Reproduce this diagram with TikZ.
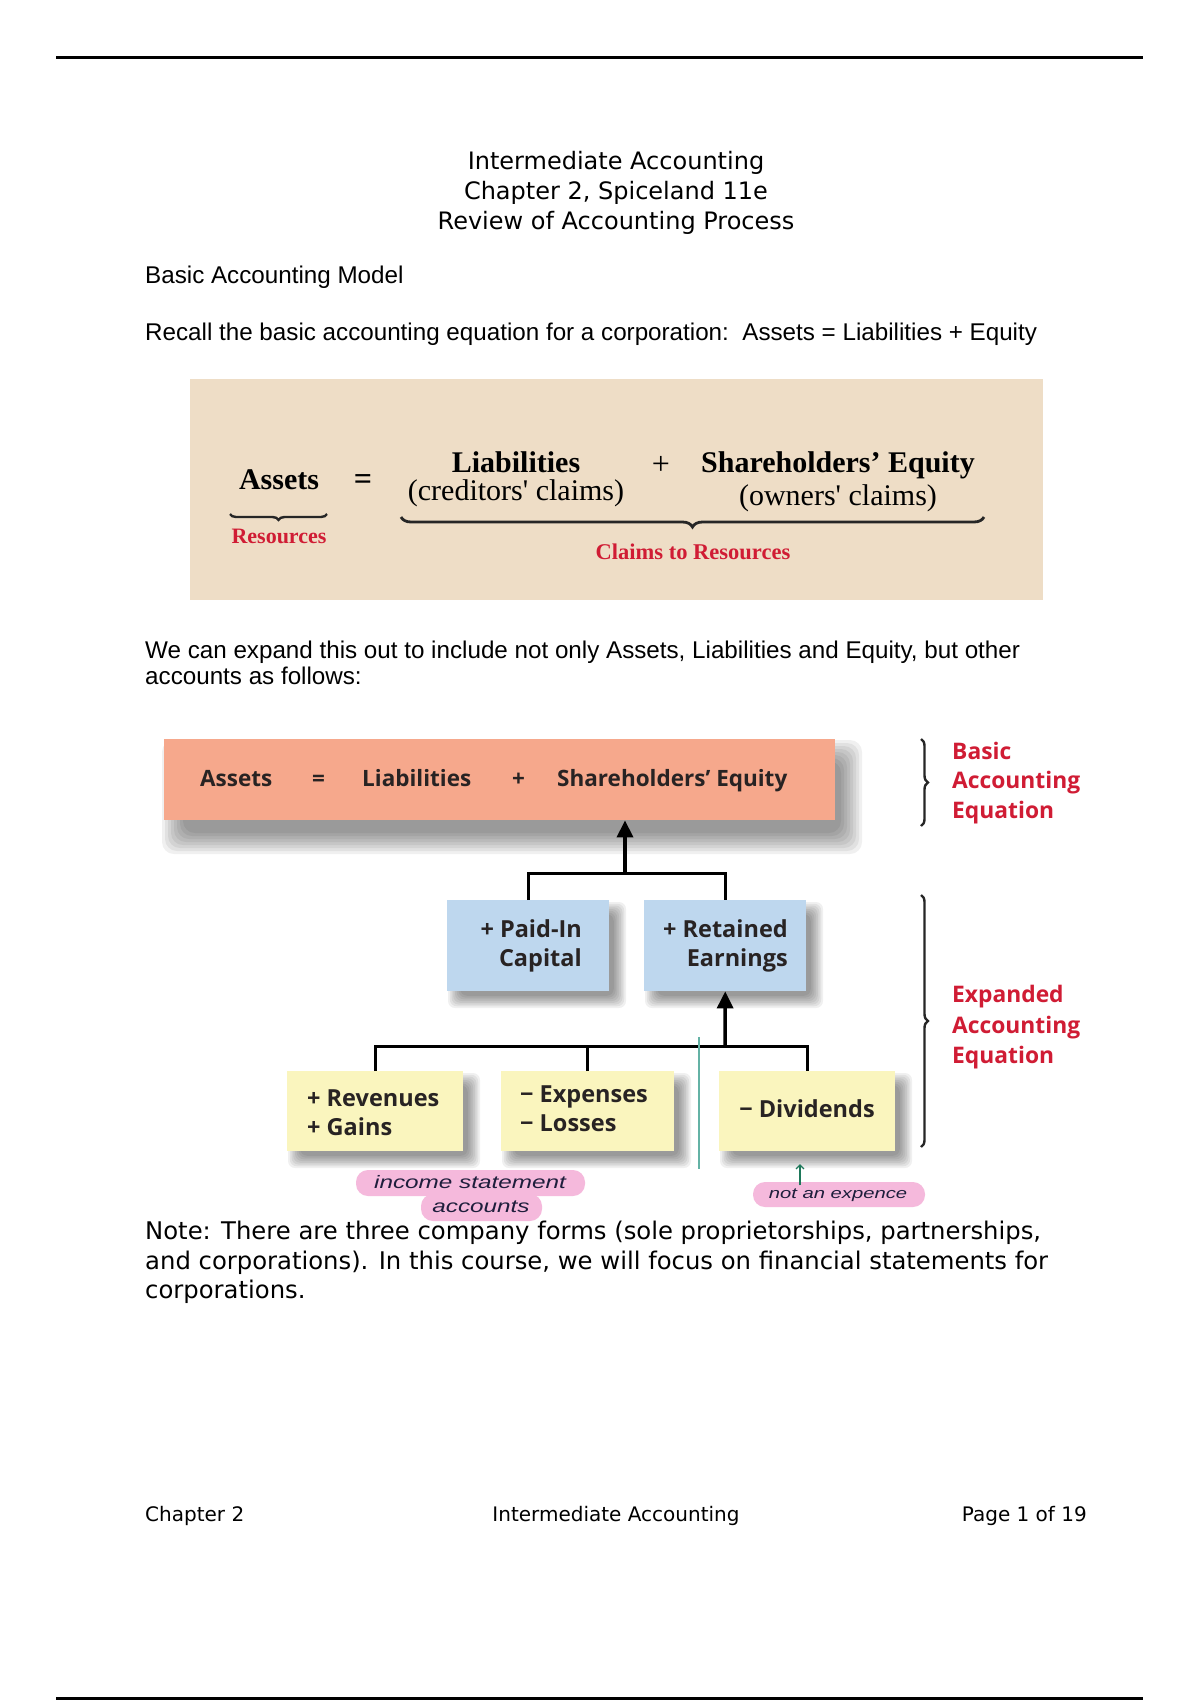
\documentclass[tikz,border=0pt]{standalone}
\usepackage{fontspec}
\setmainfont{DejaVu Sans}
\newfontfamily\arialf{Liberation Sans}
\newfontfamily\serf{Liberation Serif}
\newfontfamily\dgf{Open Sans}
\newfontfamily\handf{Liberation Sans}[FakeStretch=1.35]
\usetikzlibrary{arrows.meta,decorations.pathreplacing}
\definecolor{beige}{RGB}{238,221,198}
\definecolor{salmon}{RGB}{246,168,140}
\definecolor{lblue}{RGB}{190,215,238}
\definecolor{lyel}{RGB}{250,245,190}
\definecolor{redt}{RGB}{208,28,52}
\definecolor{dtext}{RGB}{40,35,35}
\definecolor{tealc}{RGB}{100,178,165}
\definecolor{pinkh}{RGB}{245,185,220}
\definecolor{inkc}{RGB}{30,30,60}
\definecolor{inkg}{RGB}{30,120,90}
\newcommand\sshadow[5]{\foreach \k in {0,...,7}{\fill[black,opacity=0.06,rounded corners=#5] ({#1-#5+#5*\k/4},{#2-#5+#5*\k/4}) rectangle ({#3+#5-#5*\k/4},{#4+#5-#5*\k/4});}}
\tikzset{
  txt/.style={inner sep=0pt, anchor=base west},
  ctxt/.style={inner sep=0pt, anchor=base},
  rtxt/.style={inner sep=0pt, anchor=base east},
  ebox/.style={draw=none, inner sep=0pt, anchor=north west},
  conn/.style={line width=3pt, draw=black},
  arr/.style={line width=3.5pt, draw=black, -{Triangle[width=16pt,length=17pt]}},
  bracel/.style={decorate, line width=2pt, draw=black!85},
  redl/.style={txt, text=redt, font=\dgf\bfseries\fontsize{22.8}{27}\selectfont},
  dg/.style={txt, text=dtext, font=\dgf\bfseries\fontsize{22.5}{27}\selectfont},
  bx/.style={text=dtext, font=\dgf\bfseries\fontsize{23.5}{29}\selectfont},
  hand/.style={inner sep=0pt, text=inkc, font=\handf\itshape\fontsize{18}{20}\selectfont},
  bodyf/.style={txt, font=\arialf\fontsize{24.2}{28}\selectfont},
  notef/.style={txt, font=\fontsize{24.3}{29}\selectfont},
}
\begin{document}
\begin{tikzpicture}[x=1pt,y=-1pt]
\useasboundingbox (0,0) rectangle (1200,1700);
\fill[white] (0,0) rectangle (1200,1700);
% rules
\draw[line width=3pt] (56,57) -- (1143,57);
\draw[line width=3pt] (56,1698) -- (1143,1698);
% title
\node[ctxt, font=\fontsize{24}{29}\selectfont] (t1) at (616,169) {Intermediate Accounting};
\node[ctxt, font=\fontsize{24}{29}\selectfont] (t2) at (616,199) {Chapter 2, Spiceland 11e};
\node[ctxt, font=\fontsize{24}{29}\selectfont] (t3) at (616,229) {Review of Accounting Process};
\node[bodyf] (bam) at (145,283) {Basic Accounting Model};
\node[bodyf] (rec) at (145,340) {Recall the basic accounting equation for a corporation:\ \ Assets = Liabilities + Equity};
% beige box
\fill[beige] (190,379) rectangle (1043,600);
\node[ctxt, font=\serf\bfseries\fontsize{30}{34}\selectfont] (bA) at (279,489) {Assets};
\node[ctxt, font=\serf\bfseries\fontsize{32}{34}\selectfont] (bEq) at (363,489) {=};
\node[ctxt, font=\serf\bfseries\fontsize{30}{34}\selectfont] (bL) at (516,472) {Liabilities};
\node[ctxt, font=\serf\fontsize{30}{34}\selectfont] (bLc) at (516,500) {(creditors' claims)};
\node[ctxt, font=\serf\fontsize{32}{34}\selectfont] (bP) at (661,474) {+};
\node[ctxt, font=\serf\bfseries\fontsize{30}{34}\selectfont] (bS) at (838,472) {Shareholders’ Equity};
\node[ctxt, font=\serf\fontsize{30}{34}\selectfont] (bSc) at (838,505) {(owners' claims)};
\draw[bracel, line width=2.4pt, decoration={brace, amplitude=6pt}] (327,514) -- (230,514);
\draw[bracel, line width=2.8pt, decoration={brace, amplitude=10pt}] (984,517) -- (401,517);
\node[ctxt, text=redt, font=\serf\bfseries\fontsize{22}{24}\selectfont] (bR) at (279,543) {Resources};
\node[ctxt, text=redt, font=\serf\bfseries\fontsize{22.5}{24}\selectfont] (bC) at (693,559) {Claims to Resources};
% expand text
\node[bodyf] (we1) at (145,658) {We can expand this out to include not only Assets, Liabilities and Equity, but other};
\node[bodyf] (we2) at (145,684) {accounts as follows:};
% shadows
\sshadow{174}{752}{850}{842}{12}
\sshadow{455}{909}{619}{1001}{7}
\sshadow{652}{909}{816}{1001}{7}
\sshadow{295}{1080}{473}{1161}{7}
\sshadow{509}{1080}{684}{1161}{7}
\sshadow{727}{1080}{905}{1161}{7}
% diagram 2
\node[ebox, fill=salmon, minimum width=671pt, minimum height=81pt] (top) at (164,739) {};
\node[dg] (tA) at (200,786) {Assets};
\node[dg] (tE) at (312,786) {=};
\node[dg] (tL) at (362,786) {Liabilities};
\node[dg] (tP) at (512,786) {+};
\node[dg] (tS) at (557,786) {Shareholders’ Equity};
\node[ebox, fill=lblue, minimum width=162pt, minimum height=91pt] (pic) at (447,900) {};
\node[ebox, fill=lblue, minimum width=162pt, minimum height=91pt] (re) at (644,900) {};
\node[bx, inner sep=0pt, anchor=base east, align=right] (picT) at (582,966) {+ Paid-In\\Capital};
\node[bx, inner sep=0pt, anchor=base east, align=right] (reT) at (788,966) {+ Retained\\Earnings};
\node[ebox, fill=lyel, minimum width=176pt, minimum height=80pt] (rev) at (287,1071) {};
\node[ebox, fill=lyel, minimum width=173pt, minimum height=80pt] (exp) at (501,1071) {};
\node[ebox, fill=lyel, minimum width=176pt, minimum height=80pt] (div) at (719,1071) {};
\node[bx, inner sep=0pt, anchor=base west, align=left] (revT) at (307,1135) {+ Revenues\\+ Gains};
\node[bx, inner sep=0pt, anchor=base west, align=left] (expT) at (520,1131) {\char"2212\ Expenses\\\char"2212\ Losses};
\node[bx, inner sep=0pt, anchor=base] (divT) at (807,1117) {\char"2212\ Dividends};
% connectors
\coordinate (j1) at (625,873);
\coordinate (j2) at (725,1046);
\draw[conn] (pic.north) |- (j1) -| (re.north);
\draw[arr] (j1) -- (j1 |- top.south);
\draw[conn] (rev.north) |- (j2) -| (div.north);
\draw[conn] (exp.north) -- (exp.north |- j2);
\draw[arr] (j2) -- (re.south);
% braces
\draw[bracel, line width=2.4pt, decoration={brace, amplitude=7pt}] (921,739) -- (921,826);
\draw[bracel, line width=2.4pt, decoration={brace, amplitude=7pt}] (921,895) -- (921,1147);
\node[redl] (b1) at (952,759) {Basic};
\node[redl] (b2) at (952,788) {Accounting};
\node[redl] (b3) at (952,818) {Equation};
\node[redl] (e1) at (952,1002) {Expanded};
\node[redl] (e2) at (952,1033) {Accounting};
\node[redl] (e3) at (952,1063) {Equation};
% annotations
\draw[tealc, line width=1.8pt] (699,1037) -- (699,1169);
\fill[pinkh, rounded corners=12pt] (356,1170) rectangle (585,1196);
\fill[pinkh, rounded corners=12pt] (421,1194) rectangle (542,1221);
\fill[pinkh, rounded corners=12pt] (753,1182) rectangle (925,1207);
\node[hand] (h1) at (470,1182) {income statement};
\node[hand] (h2) at (481,1207) {accounts};
\node[hand, font=\handf\itshape\fontsize{15}{18}\selectfont] (h3) at (838,1195) {not an expence};
\coordinate (h3a) at (800,1164);
\draw[inkg, line width=1.3pt, -{Straight Barb[length=4pt]}] (h3.north -| h3a) ++(0,-3) -- (h3a);
% note
\node[notef] (n1) at (145,1239) {Note: There are three company forms (sole proprietorships, partnerships,};
\node[notef] (n2) at (145,1269) {and corporations). In this course, we will focus on financial statements for};
\node[notef] (n3) at (145,1298) {corporations.};
% footer
\node[txt, font=\fontsize{20}{24}\selectfont] (f1) at (145,1521) {Chapter 2};
\node[ctxt, font=\fontsize{20}{24}\selectfont] (f2) at (616,1521) {Intermediate Accounting};
\node[rtxt, font=\fontsize{20}{24}\selectfont] (f3) at (1087,1521) {Page 1 of 19};
\end{tikzpicture}
\end{document}
